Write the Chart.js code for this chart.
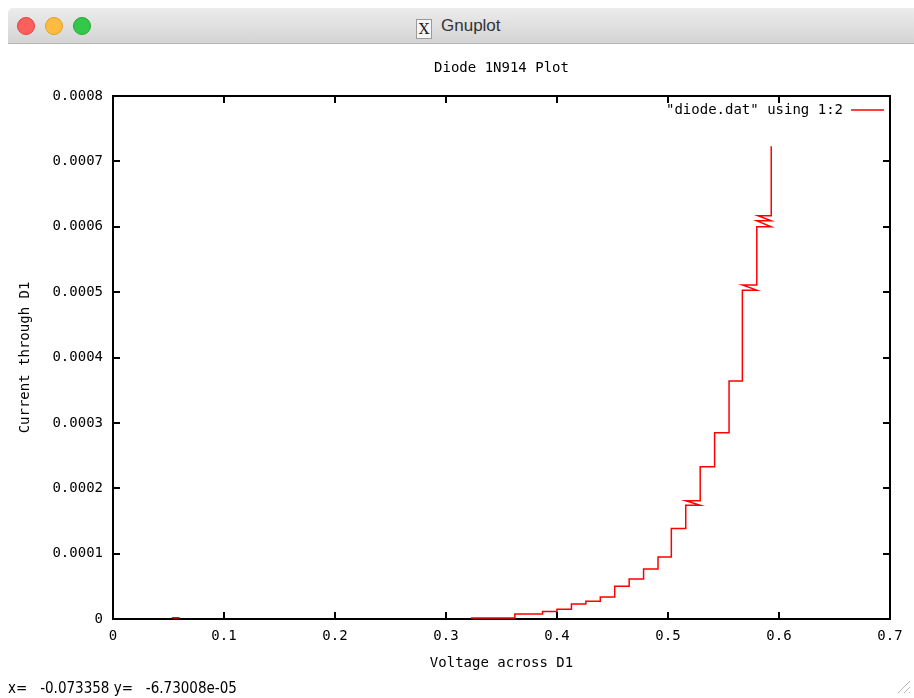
<!DOCTYPE html>
<html>
<head>
<meta charset="utf-8">
<title>Gnuplot</title>
<script src="https://cdn.jsdelivr.net/npm/chart.js@4.4.1/dist/chart.umd.min.js"></script>
<style>
  html, body { margin: 0; padding: 0; background: #fff; }
  body { width: 914px; height: 698px; position: relative; overflow: hidden; }
  #bar {
    position: absolute; left: 8px; top: 8px; width: 906px; height: 35px;
    background: linear-gradient(#ececec, #d4d4d4);
    border-bottom: 1px solid #b4b4b4; border-top-left-radius: 5px;
  }
  .light { position: absolute; top: 9px; width: 16px; height: 16px; border-radius: 50%; }
  #wtitle {
    position: absolute; left: 408px; top: 7px; height: 22px;
    font: 17px "Liberation Sans", Arial, sans-serif; color: #333; line-height: 22px;
  }
  #xicon {
    display: inline-block; width: 14px; height: 18px; margin-right: 9px; vertical-align: -3px;
    border: 1px solid #9a9a9a; background: #f6f6f6; text-align: center;
    font: 15px "DejaVu Serif", serif; line-height: 18px; color: #222;
  }
  #chartbox { position: absolute; left: 0; top: 44px; }
  #status {
    position: absolute; left: 8px; top: 679px; white-space: pre;
    font: 15px "Liberation Sans Narrow", "DejaVu Sans Condensed", sans-serif; color: #000;
  }
  #grip {
    position: absolute; left: 896px; top: 679px; width: 14px; height: 14px;
    background: repeating-linear-gradient(135deg, transparent 0 3px, #b8b8b8 3px 4px);
    clip-path: polygon(100% 0, 100% 100%, 0 100%);
  }
</style>
</head>
<body>
<div id="bar">
  <div class="light" style="left:9px;background:#fc605c;border:1px solid #e0443e;"></div>
  <div class="light" style="left:37px;background:#fdbc40;border:1px solid #dea123;"></div>
  <div class="light" style="left:65px;background:#34c84a;border:1px solid #1dad2b;"></div>
  <div id="wtitle"><span id="xicon">X</span>Gnuplot</div>
</div>
<div id="chartbox"><canvas id="myChart" width="914" height="638"></canvas></div>
<div id="status">x=   -0.073358 y=   -6.73008e-05</div>
<div id="grip"></div>

<script>
// voltage across the diode (V) and current through it (A)
// null marks the break between the stray point near 0.05 V and the sweep
const voltage = [
  0.053, 0.060,
  null,
  0.3225, 0.362, 0.362, 0.387, 0.387, 0.400, 0.400, 0.413, 0.413, 0.426,
  0.426, 0.439, 0.439, 0.452, 0.452, 0.465, 0.465, 0.478, 0.478, 0.491,
  0.491, 0.503, 0.503, 0.516, 0.516, 0.529, 0.516, 0.529, 0.529, 0.542,
  0.542, 0.555, 0.555, 0.567, 0.567, 0.580, 0.567, 0.580, 0.580, 0.593,
  0.580, 0.593, 0.581, 0.593, 0.593
];
const current = [
  0.000002, 0.000002,
  null,
  0.0000015, 0.0000015, 0.0000075, 0.0000075, 0.0000115, 0.0000115, 0.000015, 0.000015, 0.000023,
  0.000023, 0.000027, 0.000027, 0.0000335, 0.0000335, 0.00005, 0.00005, 0.000061, 0.000061, 0.0000765,
  0.0000765, 0.000095, 0.000095, 0.0001385, 0.0001385, 0.000174, 0.000174, 0.000181, 0.000181, 0.000233,
  0.000233, 0.000285, 0.000285, 0.000364, 0.000364, 0.000503, 0.000503, 0.000511, 0.000511, 0.000600,
  0.000600, 0.000609, 0.000609, 0.000617, 0.000617, 0.000723
];

const xTickLabels = ['0', '0.1', '0.2', '0.3', '0.4', '0.5', '0.6', '0.7'];
const yTickLabels = ['0', '0.0001', '0.0002', '0.0003', '0.0004', '0.0005', '0.0006', '0.0007', '0.0008'];

const seriesLabel = '"diode.dat" using 1:2';
const MONO = '"DejaVu Sans Mono", "Liberation Mono", monospace';

const points = voltage.map((v, i) => (v === null ? { x: null, y: null } : { x: v, y: current[i] }));

// gnuplot style frame: full border and inward ticks under the data, key inside top right
const gnuplotFrame = {
  id: 'gnuplotFrame',
  beforeDatasetsDraw(chart) {
    const { ctx, chartArea: a, scales } = chart;
    ctx.save();
    ctx.strokeStyle = '#000';
    ctx.lineWidth = 2;
    ctx.beginPath();
    scales.x.ticks.forEach(t => {
      const px = Math.round(scales.x.getPixelForValue(t.value));
      ctx.moveTo(px, a.bottom); ctx.lineTo(px, a.bottom - 7);
      ctx.moveTo(px, a.top); ctx.lineTo(px, a.top + 7);
    });
    scales.y.ticks.forEach(t => {
      const py = Math.round(scales.y.getPixelForValue(t.value));
      ctx.moveTo(a.left, py); ctx.lineTo(a.left + 7, py);
      ctx.moveTo(a.right, py); ctx.lineTo(a.right - 7, py);
    });
    ctx.stroke();
    ctx.strokeRect(a.left, a.top, a.right - a.left, a.bottom - a.top);
    ctx.restore();
  },
  afterDatasetsDraw(chart) {
    const { ctx, chartArea: a } = chart;
    const ds = chart.data.datasets[0];
    const ky = a.top + 14;
    ctx.save();
    ctx.font = '14px ' + MONO;
    ctx.fillStyle = '#000';
    ctx.textAlign = 'right';
    ctx.textBaseline = 'middle';
    ctx.fillText(ds.label, a.right - 47, ky);
    ctx.strokeStyle = ds.borderColor;
    ctx.lineWidth = 1.5;
    ctx.beginPath();
    ctx.moveTo(a.right - 39, ky);
    ctx.lineTo(a.right - 6, ky);
    ctx.stroke();
    ctx.restore();
  }
};

Chart.defaults.color = '#000';
Chart.defaults.font.family = MONO;

const ctx = document.getElementById('myChart').getContext('2d');
new Chart(ctx, {
  type: 'scatter',
  data: {
    datasets: [{
      label: seriesLabel,
      data: points,
      showLine: true,
      spanGaps: false,
      borderColor: '#ff0000',
      backgroundColor: '#ff0000',
      borderWidth: 1.5,
      pointRadius: 0,
      tension: 0
    }]
  },
  options: {
    responsive: false,
    animation: false,
    devicePixelRatio: 1,
    layout: { padding: { left: 0, right: 24, top: 0, bottom: 0 } },
    plugins: {
      legend: { display: false },
      tooltip: { enabled: false },
      title: {
        display: true,
        text: 'Diode 1N914 Plot',
        fullSize: false,
        color: '#000',
        font: { family: MONO, size: 14, weight: 'normal', lineHeight: 1.2 },
        padding: { top: 15.6, bottom: 19.6 }
      }
    },
    scales: {
      x: {
        type: 'linear',
        min: 0,
        max: 0.7,
        grid: { display: false, drawTicks: false },
        border: { display: false },
        ticks: {
          stepSize: 0.1,
          padding: 8.6,
          maxRotation: 0,
          font: { family: MONO, size: 14 },
          callback: (v, i) => xTickLabels[i]
        },
        title: {
          display: true,
          text: 'Voltage across D1',
          font: { family: MONO, size: 14 },
          padding: { top: 0, bottom: 10.6 }
        },
        afterFit: s => { s.height = 63; }
      },
      y: {
        type: 'linear',
        min: 0,
        max: 0.0008,
        grid: { display: false, drawTicks: false },
        border: { display: false },
        ticks: {
          stepSize: 0.0001,
          padding: 10,
          font: { family: MONO, size: 14 },
          callback: (v, i) => yTickLabels[i]
        },
        title: {
          display: true,
          text: 'Current through D1',
          font: { family: MONO, size: 14 },
          padding: { top: 16.6, bottom: 0 }
        },
        afterFit: s => { s.width = 113; }
      }
    }
  },
  plugins: [gnuplotFrame]
});
</script>
</body>
</html>
